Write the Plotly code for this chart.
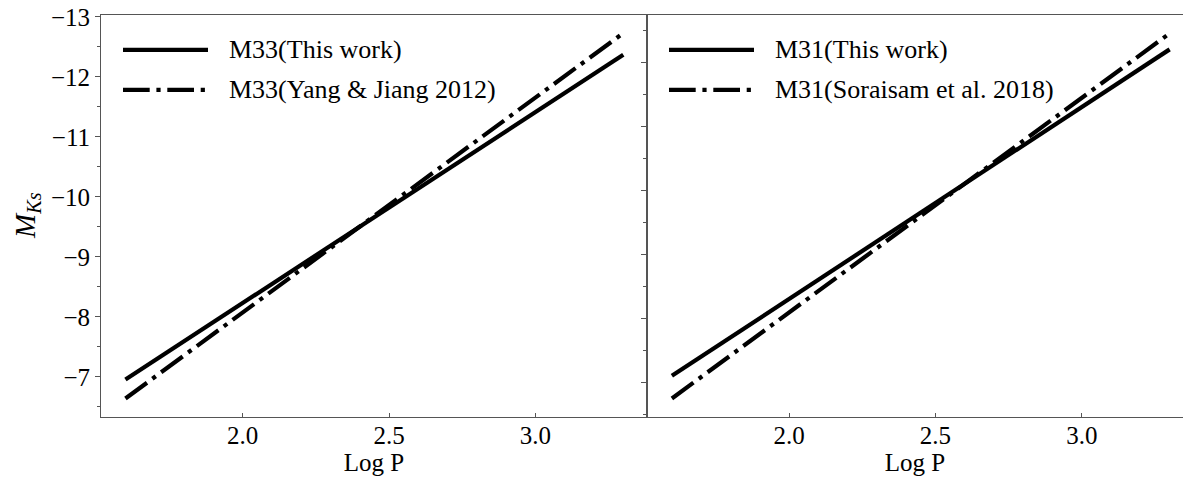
import plotly.graph_objects as go

# ---- data ----
log_p = [1.6, 3.3]
m33_this_work = [-6.955, -12.367]
m33_yang_jiang = [-6.638, -12.728]
m31_this_work = [-7.103, -12.203]
m31_soraisam = [-6.75, -12.453]

x_tickvals = [2.0, 2.5, 3.0]
x_ticktext = ["2.0", "2.5", "3.0"]
y_tickvals = [-13, -12, -11, -10, -9, -8, -7]

left_labels = ["M33(This work)", "M33(Yang &amp; Jiang 2012)"]
right_labels = ["M31(This work)", "M31(Soraisam et al. 2018)"]
line_dashes = ["solid", "26.7px,6.7px,4.2px,6.7px"]

FONT = "Liberation Serif, Times New Roman, DejaVu Serif, serif"
FS = 25
AXC = "#555555"
LW = 4.2

fig = go.Figure()

series = [
    (m33_this_work, "x", "y", line_dashes[0]),
    (m33_yang_jiang, "x", "y", line_dashes[1]),
    (m31_this_work, "x2", "y2", line_dashes[0]),
    (m31_soraisam, "x2", "y2", line_dashes[1]),
]
for vals, xa, ya, dash in series:
    fig.add_trace(go.Scatter(x=log_p, y=vals, xaxis=xa, yaxis=ya, mode="lines",
                             line=dict(color="black", width=LW, dash=dash),
                             showlegend=False, hoverinfo="skip"))

split = 546 / 1082

common_x = dict(showline=True, linecolor=AXC, linewidth=1, mirror=True,
                ticks="inside", ticklen=4, tickcolor=AXC, tickwidth=1,
                tickvals=x_tickvals, ticktext=x_ticktext, showgrid=False, zeroline=False,
                ticklabelstandoff=-4,
                tickfont=dict(family=FONT, size=FS, color="black"),
                title=dict(text="Log P", font=dict(family=FONT, size=FS, color="black"), standoff=2))

fig.update_layout(
    width=1183, height=478,
    margin=dict(l=101, r=0, t=15, b=61),
    paper_bgcolor="white", plot_bgcolor="white",
    font=dict(family=FONT, size=FS, color="black"),
    xaxis=dict(domain=[0, split], range=[1.5165, 3.381], anchor="y", **common_x),
    xaxis2=dict(domain=[split, 1], range=[1.515, 3.3456], anchor="y2", **common_x),
    yaxis=dict(domain=[0, 1], range=[-6.33, -13.03], anchor="x",
               showline=True, linecolor=AXC, linewidth=1, mirror=True,
               ticks="outside", ticklen=5, tickcolor=AXC, tickwidth=1,
               tickvals=y_tickvals, showgrid=False, zeroline=False,
               tickfont=dict(family=FONT, size=FS, color="black"),
               minor=dict(dtick=0.5, tick0=0, ticks="outside", ticklen=3, tickcolor=AXC, showgrid=False)),
    yaxis2=dict(domain=[0, 1], range=[-6.46, -12.74], anchor="x2",
                showline=True, linecolor=AXC, linewidth=1, mirror=False,
                ticks="outside", ticklen=5, tickcolor=AXC, tickwidth=1,
                dtick=1, tick0=0, showticklabels=False, showgrid=False, zeroline=False,
                minor=dict(dtick=0.5, tick0=0, ticks="outside", ticklen=3, tickcolor=AXC, showgrid=False)),
)

# y axis title
fig.add_annotation(text="<i>M</i><sub><i>Ks</i></sub>", xref="paper", yref="paper",
                   x=(27 - 101) / 1082, y=0.5, textangle=-90, showarrow=False,
                   xanchor="center", yanchor="middle",
                   font=dict(family=FONT, size=29, color="black"))

# legends (drawn manually to keep long handles)
row_y = [1 - 35 / 402.5, 1 - 75 / 402.5]
for xr, yr, labels, x0, x1, xt in [("x domain", "y domain", left_labels, 22 / 546, 107 / 546, 126 / 546),
                                   ("x2 domain", "y2 domain", right_labels, 22 / 536, 107 / 536, 126 / 536)]:
    for i, lab in enumerate(labels):
        fig.add_shape(type="line", xref=xr, yref=yr, x0=x0, x1=x1, y0=row_y[i], y1=row_y[i],
                      line=dict(color="black", width=LW, dash=line_dashes[i]))
        fig.add_annotation(text=lab, xref=xr, yref=yr, x=xt, y=row_y[i], showarrow=False,
                           xanchor="left", yanchor="middle",
                           font=dict(family=FONT, size=FS + 1, color="black"))

fig.write_html("out.html", config={"displayModeBar": False},
               post_script="document.body.style.margin='0';document.body.style.overflow='hidden';")
